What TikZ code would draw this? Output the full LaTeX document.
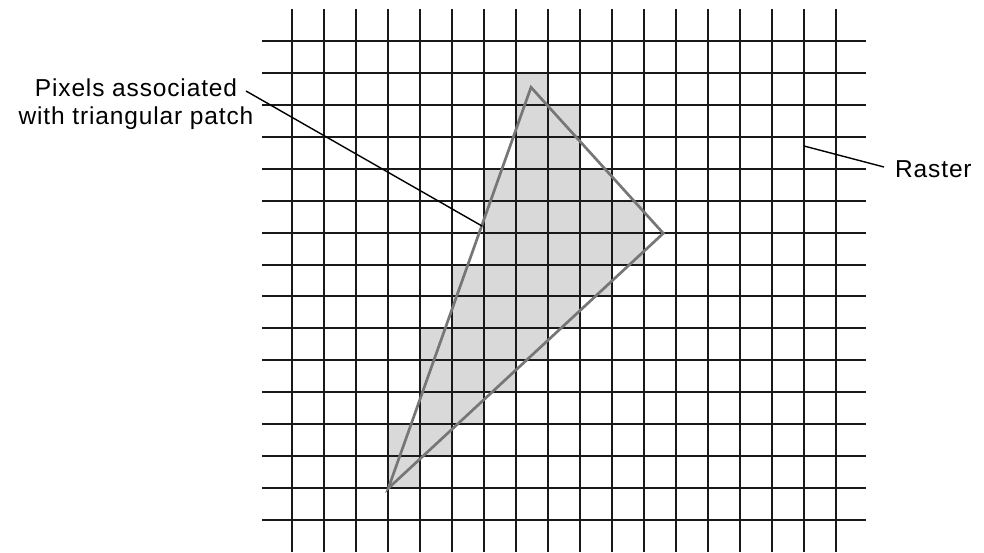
\documentclass[tikz,border=0pt]{standalone}
\usepackage{fontspec}
\setmainfont{Liberation Sans}[LetterSpace=3.5]
\definecolor{cellgray}{RGB}{217,217,217}
\definecolor{gridcol}{RGB}{25,25,25}
\definecolor{tricol}{RGB}{118,118,118}
\begin{document}
\begin{tikzpicture}[x=1pt,y=-1pt,
  lbl/.style={font=\fontsize{24.5}{27.6}\selectfont, inner sep=0pt},
  gridline/.style={draw=gridcol, line width=2pt},
  tri/.style={draw=tricol, line width=2.7pt, line join=miter},
  leader/.style={draw=black, line width=1.4pt}]
\useasboundingbox (0,0) rectangle (984,552);
% shaded pixels
\foreach \r/\a/\b in {1/7/7,2/7/8,3/7/8,4/6/9,5/6/10,6/6/10,7/5/9,8/5/8,9/4/7,10/4/6,11/4/5,12/3/4,13/3/3} {
  \fill[cellgray] ({292+32*\a},{int(41.8+31.9*\r)}) rectangle ({292+32*(\b+1)},{int(41.8+31.9*(\r+1))});
}
% raster grid
\foreach \i in {0,...,17} \draw[gridline] ({292+32*\i},9) -- ({292+32*\i},552);
\foreach \j in {0,...,15} \draw[gridline] (262,{int(41.8+31.9*\j)}) -- (866,{int(41.8+31.9*\j)});
% triangle
\coordinate (A) at (531,87.3);
\coordinate (R) at (663.3,233.3);
\coordinate (B) at (388.3,488.3);
\draw[tri] (A) -- (R) -- (B) -- cycle;
% labels
\node[lbl, align=center, anchor=base] (pix) at (136,124.3) {Pixels associated\\with triangular patch};
\node[lbl, anchor=base west] (ras) at (895,177.7) {Raster};
\coordinate (p1) at (246,91);
\coordinate (p2) at (482,226);
\draw[leader] (p1) -- (p2);
\coordinate (r1) at (884,167);
\coordinate (r2) at (804,146);
\draw[leader] (r1) -- (r2);
\end{tikzpicture}
\end{document}
